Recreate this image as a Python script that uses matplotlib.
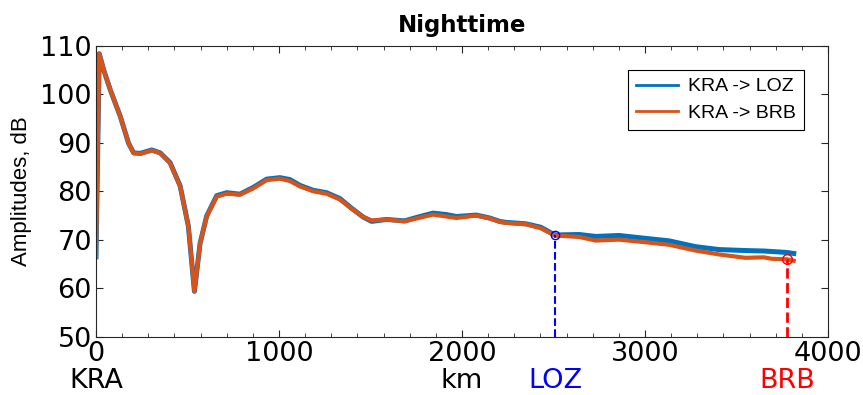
import matplotlib
matplotlib.use('Agg')
import matplotlib.pyplot as plt
from matplotlib.ticker import MultipleLocator, AutoMinorLocator
import matplotlib.transforms as mtransforms

# distance along path, km
dist = [0, 18, 42, 78, 133, 178, 206, 242, 305, 351, 405, 460, 505, 538, 569,
        605, 660, 715, 787, 860, 933, 1005, 1060, 1115, 1187, 1260, 1333, 1397,
        1460, 1506, 1588, 1687, 1751, 1842, 1915, 1970, 2078, 2151, 2206, 2240,
        2350, 2430, 2508, 2640, 2731, 2858, 3004, 3131, 3276, 3404, 3549, 3649,
        3694, 3775, 3813]

# amplitudes, dB
amp_loz = [66.5, 108.3, 105.0, 100.9, 95.4, 89.9, 87.9, 87.8, 88.5, 87.9, 85.9,
           81.1, 72.8, 59.4, 69.3, 74.9, 79.1, 79.7, 79.4, 80.8, 82.5, 82.8,
           82.4, 81.2, 80.2, 79.7, 78.5, 76.5, 74.7, 73.8, 74.2, 73.9, 74.6,
           75.5, 75.2, 74.8, 75.1, 74.5, 73.8, 73.6, 73.3, 72.6, 71.0, 71.1,
           70.7, 70.9, 70.3, 69.8, 68.6, 68.0, 67.8, 67.7, 67.6, 67.4, 67.2]
amp_brb = [66.5, 108.3, 105.0, 100.9, 95.4, 89.9, 87.85, 87.7, 88.4, 87.85, 85.8,
           81.0, 72.8, 59.4, 69.3, 74.8, 78.9, 79.5, 79.3, 80.6, 82.3, 82.6,
           82.1, 81.0, 80.0, 79.5, 78.3, 76.4, 74.7, 74.0, 74.2, 73.8, 74.4,
           75.2, 74.8, 74.5, 75.0, 74.4, 73.7, 73.5, 73.2, 72.4, 70.9, 70.6,
           69.85, 70.05, 69.5, 69.0, 67.8, 67.0, 66.3, 66.4, 66.1, 66.0, 65.7]

stations = ['KRA', 'LOZ', 'BRB']
station_km = [0, 2510, 3775]
station_amp = [None, 71.0, 66.0]
station_col = ['black', 'blue', 'red']

blue = '#0072BD'
orange = '#D95319'

fig = plt.figure(figsize=(8.63, 3.95), dpi=100)
ax = fig.add_axes([0.1112, 0.1468, 0.8482, 0.738])

ax.plot(dist, amp_loz, color=blue, lw=3.6, label='KRA -> LOZ',
        solid_joinstyle='round')
ax.plot(dist, amp_brb, color=orange, lw=3.0, label='KRA -> BRB',
        solid_joinstyle='round')

# station markers with dashed drop lines
ax.plot([station_km[1]] * 2, [50, station_amp[1]], '--', color='blue', lw=1.5)
ax.plot(station_km[1], station_amp[1], 'o', mec='blue', mfc='none', ms=6, mew=1)
ax.plot([station_km[2]] * 2, [50, station_amp[2]], '--', color='red', lw=2)
ax.plot(station_km[2], station_amp[2], 'o', mec='red', mfc='none', ms=7, mew=1)

ax.set_xlim(0, 4000)
ax.set_ylim(50, 110)
ax.xaxis.set_major_locator(MultipleLocator(1000))
ax.xaxis.set_minor_locator(AutoMinorLocator(7))
ax.yaxis.set_major_locator(MultipleLocator(10))
ax.tick_params(which='both', direction='in', top=True, right=True,
               labelsize=19.5, pad=3, color='#262626')
ax.tick_params(which='major', length=5)
ax.tick_params(which='minor', length=3)
for s in ax.spines.values():
    s.set_linewidth(0.8)
    s.set_color('#262626')

ax.set_ylabel('Amplitudes, dB', fontsize=16, family='Liberation Sans', labelpad=6)
ax.set_title('Nighttime', fontsize=16.5, fontweight='bold', pad=10)

trans = mtransforms.blended_transform_factory(ax.transData, ax.transAxes)
for name, km, col in zip(stations, station_km, station_col):
    ax.text(km, -0.15, name, transform=trans, ha='center', va='center',
            fontsize=19.5, color=col)
ax.text(0.5, -0.15, 'km', transform=ax.transAxes, ha='center', va='center',
        fontsize=19.5)

leg = ax.legend(loc='upper right', bbox_to_anchor=(0.967, 0.916), borderaxespad=0,
                prop={'family': 'Liberation Sans', 'size': 14}, fancybox=False,
                edgecolor='black', framealpha=1, handlelength=2.2,
                handletextpad=0.5, labelspacing=0.45)
leg.get_frame().set_linewidth(0.8)
for line in leg.get_lines():
    line.set_linewidth(2)

fig.savefig('out.png', dpi=100)
